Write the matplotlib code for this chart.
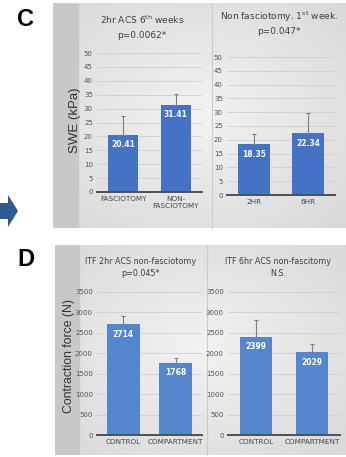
import numpy as np
import matplotlib
matplotlib.use("Agg")
import matplotlib.pyplot as plt
from matplotlib.patches import Polygon

plt.rcParams['font.family'] = ['Liberation Sans Narrow', 'DejaVu Sans']

# ---- data ----
c_left_cats = ["FASCIOTOMY", "NON-\nFASCIOTOMY"]
c_left_vals = [20.41, 31.41]
c_left_err = [6.9, 3.7]
c_right_cats = ["2HR", "6HR"]
c_right_vals = [18.35, 22.34]
c_right_err = [3.6, 7.5]
c_ticks = [0, 5, 10, 15, 20, 25, 30, 35, 40, 45, 50]

d_left_cats = ["CONTROL", "COMPARTMENT"]
d_left_vals = [2714, 1768]
d_left_err = [190, 110]
d_right_cats = ["CONTROL", "COMPARTMENT"]
d_right_vals = [2399, 2029]
d_right_err = [420, 190]
d_ticks = [0, 500, 1000, 1500, 2000, 2500, 3000, 3500]

W, H = 346, 457
fig = plt.figure(figsize=(W / 100, H / 100), dpi=100)
fig.patch.set_facecolor('white')


def fx(px):
    return px / W


def fy(py):
    return 1 - py / H


def rect(x0, y0, x1, y1):
    return [fx(x0), fy(y1), fx(x1) - fx(x0), fy(y0) - fy(y1)]


def gradient_box(x0, y0, x1, y1, strip):
    ax = fig.add_axes(rect(x0, y0, x1, y1), zorder=0)
    nx, ny = 200, 200
    xx, yy = np.meshgrid(np.linspace(-1, 1, nx), np.linspace(-1, 1, ny))
    r = np.sqrt(xx ** 2 + yy ** 2) / np.sqrt(2)
    v = 0.95 - 0.10 * r
    img = np.dstack([v, v, v])
    ax.imshow(img, extent=[0, 1, 0, 1], aspect='auto')
    sw = (strip - x0) / (x1 - x0)
    ax.axvspan(0, sw, color='#c8c8c8', zorder=2)
    ax.set_xlim(0, 1)
    ax.set_ylim(0, 1)
    ax.axis('off')
    return ax


gradient_box(53, 3, 346, 228, 78)
gradient_box(55, 245, 346, 455, 79)

# divider lines
fig.add_artist(plt.Line2D([fx(212), fx(212)], [fy(3), fy(228)], color='#cccccc', lw=0.8, zorder=1))
fig.add_artist(plt.Line2D([fx(207), fx(207)], [fy(245), fy(455)], color='#cccccc', lw=0.8, zorder=1))


def panel(pos, cats, vals, err, ticks, bar_color, width, lbl_fmt, ymax):
    ax = fig.add_axes(pos, zorder=2)
    ax.set_facecolor('none')
    x = np.arange(len(cats))
    ax.bar(x, vals, width=width, color=bar_color, zorder=3)
    ax.errorbar(x, vals, yerr=[[0] * len(err), err], fmt='none', ecolor='#7f7f7f',
                elinewidth=0.8, capsize=1.5, capthick=0.8, zorder=4)
    for xi, v in zip(x, vals):
        ax.text(xi, v - ymax * 0.07, lbl_fmt(v), ha='center', va='center', color='white',
                fontsize=5.5, fontweight='bold', zorder=5)
    ax.set_xlim(-0.5, len(cats) - 0.5)
    ax.set_ylim(0, ymax)
    ax.set_yticks(ticks)
    ax.set_yticklabels([str(t) for t in ticks], fontsize=5, color='#555555')
    ax.set_xticks(x)
    ax.set_xticklabels(cats, fontsize=5.2, color='#444444')
    ax.tick_params(length=0, pad=3)
    ax.grid(axis='y', color='#cfcfcf', lw=0.6, zorder=0)
    for s in ['left', 'right', 'top']:
        ax.spines[s].set_visible(False)
    ax.spines['bottom'].set_color('#505050')
    ax.spines['bottom'].set_linewidth(1.4)
    ax.spines['bottom'].set_zorder(6)
    return ax


blue_c = '#4472c4'
blue_d = '#5585cc'

panel(rect(97, 53, 202, 192), c_left_cats, c_left_vals, c_left_err, c_ticks, blue_c, 0.58,
      lambda v: f"{v:.2f}", 50)
panel(rect(227, 57, 335, 195), c_right_cats, c_right_vals, c_right_err, c_ticks, blue_c, 0.58,
      lambda v: f"{v:.2f}", 50)
panel(rect(97, 292, 202, 435), d_left_cats, d_left_vals, d_left_err, d_ticks, blue_d, 0.63,
      lambda v: f"{v:d}", 3500)
panel(rect(228, 292, 340, 435), d_right_cats, d_right_vals, d_right_err, d_ticks, blue_d, 0.58,
      lambda v: f"{v:d}", 3500)

tk = dict(ha='center', va='center', fontsize=6.5, color='#404040', zorder=10)
fig.text(fx(142), fy(20), r"2hr ACS 6$^{\rm th}$ weeks", **tk)
fig.text(fx(142), fy(36), "p=0.0062*", **tk)
fig.text(fx(279), fy(17), r"Non fasciotomy. 1$^{\rm st}$ week.", **tk)
fig.text(fx(279), fy(32), "p=0.047*", **tk)
tk2 = dict(tk, fontsize=5.8)
fig.text(fx(141), fy(261), "ITF 2hr ACS non-fasciotomy", **tk2)
fig.text(fx(141), fy(274), "p=0.045*", **tk2)
fig.text(fx(278), fy(261), "ITF 6hr ACS non-fascitomy", **tk2)
fig.text(fx(278), fy(274), "N.S.", **tk2)

fig.text(fx(75), fy(120), "SWE (kPa)", rotation=90, ha='center', va='center', fontsize=9.5,
         color='#333333', family=['Liberation Sans', 'DejaVu Sans'], zorder=10)
fig.text(fx(69), fy(356), "Contraction force (N)", rotation=90, ha='center', va='center',
         fontsize=8.8, color='#333333', family=['Liberation Sans', 'DejaVu Sans'], zorder=10)

fig.text(fx(25), fy(20), "C", ha='center', va='center', fontsize=17, fontweight='bold',
         family=['Liberation Sans', 'DejaVu Sans'])
fig.text(fx(26), fy(260), "D", ha='center', va='center', fontsize=17, fontweight='bold',
         family=['Liberation Sans', 'DejaVu Sans'])

# arrow
pts = [(0, 203), (8, 203), (8, 195), (18, 211), (8, 227), (8, 219), (0, 219)]
fig.add_artist(Polygon([(fx(a), fy(b)) for a, b in pts], closed=True, transform=fig.transFigure,
                       facecolor='#2f5b8f', edgecolor='none'))

fig.savefig("out.png", dpi=100)
